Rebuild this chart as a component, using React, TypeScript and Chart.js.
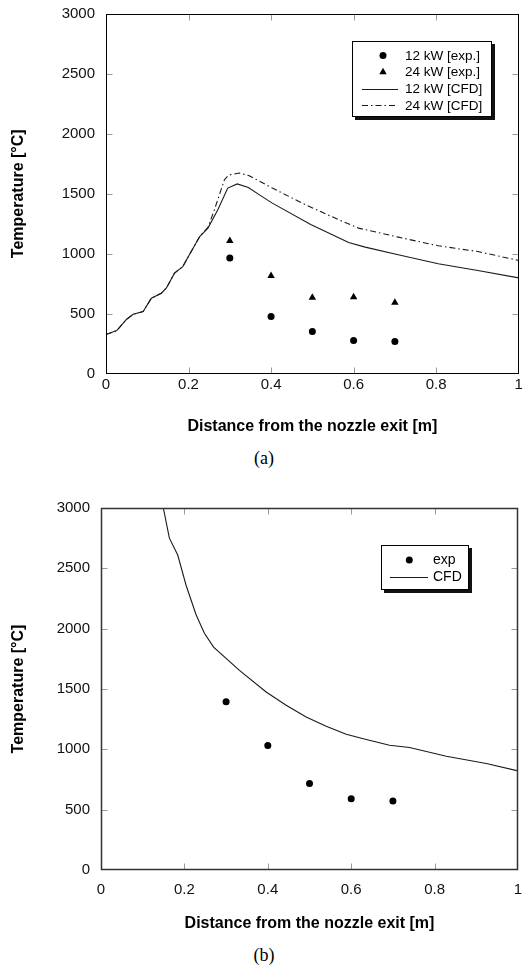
import React, { useEffect, useRef } from 'react';
import { Chart, registerables } from 'chart.js';

Chart.register(...registerables);

const SANS = '"Liberation Sans", Arial, Helvetica, sans-serif';
const SERIF = '"Liberation Serif", "Times New Roman", Times, serif';

// Axis ticks
const X_TICKS = [0, 0.2, 0.4, 0.6, 0.8, 1];
const Y_TICKS = [0, 500, 1000, 1500, 2000, 2500, 3000];

// Chart (a): experiments
const X_EXP_A = [0.3, 0.4, 0.5, 0.6, 0.7];
const T_EXP_12KW = [965, 478, 353, 278, 271];
const T_EXP_24KW = [1108, 817, 636, 640, 594];

// Chart (a): CFD 12 kW
const X_CFD_12KW = [0, 0.026, 0.05, 0.066, 0.09, 0.11, 0.134, 0.146, 0.166, 0.186, 0.202, 0.227, 0.247, 0.271, 0.295, 0.318, 0.345, 0.37, 0.403, 0.496, 0.588, 0.628, 0.708, 0.805, 0.901, 1.0];
const T_CFD_12KW = [328, 361, 456, 497, 519, 631, 672, 714, 839, 894, 992, 1144, 1214, 1367, 1547, 1582, 1552, 1495, 1422, 1245, 1094, 1056, 992, 917, 861, 800];

// Chart (a): CFD 24 kW
const X_CFD_24KW = [0, 0.026, 0.05, 0.066, 0.09, 0.11, 0.134, 0.146, 0.166, 0.186, 0.202, 0.227, 0.247, 0.262, 0.287, 0.297, 0.323, 0.347, 0.403, 0.484, 0.564, 0.612, 0.708, 0.805, 0.901, 1.0];
const T_CFD_24KW = [328, 361, 456, 497, 519, 631, 672, 714, 839, 894, 992, 1144, 1220, 1360, 1617, 1655, 1672, 1650, 1547, 1408, 1283, 1214, 1139, 1067, 1019, 945];

// Chart (b)
const X_EXP_B = [0.3, 0.4, 0.5, 0.6, 0.7];
const T_EXP_B = [1395, 1031, 717, 590, 571];
const X_CFD_B = [0.1495, 0.164, 0.184, 0.204, 0.228, 0.248, 0.27, 0.332, 0.396, 0.444, 0.492, 0.54, 0.588, 0.636, 0.692, 0.74, 0.828, 0.924, 1.0];
const T_CFD_B = [3000, 2750, 2610, 2360, 2115, 1962, 1847, 1654, 1475, 1365, 1268, 1191, 1125, 1081, 1034, 1015, 943, 882, 821];

const X_TITLE = 'Distance from the nozzle exit [m]';
const Y_TITLE = 'Temperature [°C]';

const pts = (xs: number[], ys: number[]) => xs.map((x, i) => ({ x, y: ys[i] }));

const frameTicksPlugin = {
  id: 'frameTicks',
  afterDatasetsDraw(chart: any, _args: any, opts: any) {
    const { ctx, chartArea } = chart;
    const xs = chart.scales.x;
    const ys = chart.scales.y;
    const l = Math.round(chartArea.left) + 0.5;
    const r = Math.round(chartArea.right) - 0.5;
    const t = Math.round(chartArea.top) + 0.5;
    const b = Math.round(chartArea.bottom) - 0.5;
    const len = 6;
    ctx.save();
    ctx.strokeStyle = '#9a9a9a';
    ctx.lineWidth = 1;
    ctx.beginPath();
    ys.ticks.forEach((tk: any) => {
      const py = Math.round(ys.getPixelForValue(tk.value)) + 0.5;
      if (py <= t + 1 || py >= b - 1) return;
      ctx.moveTo(l, py); ctx.lineTo(l + len, py);
      ctx.moveTo(r, py); ctx.lineTo(r - len, py);
    });
    xs.ticks.forEach((tk: any) => {
      const px = Math.round(xs.getPixelForValue(tk.value)) + 0.5;
      if (px <= l + 1 || px >= r - 1) return;
      ctx.moveTo(px, b); ctx.lineTo(px, b - len);
      ctx.moveTo(px, t); ctx.lineTo(px, t + len);
    });
    ctx.stroke();
    ctx.strokeStyle = opts.frameColor || '#000';
    ctx.lineWidth = opts.frameWidth || 1;
    ctx.strokeRect(l, t, r - l, b - t);
    ctx.restore();
  },
};

const boxLegendPlugin = {
  id: 'boxLegend',
  afterDraw(chart: any, _args: any, o: any) {
    if (!o || !o.w) return;
    const { ctx } = chart;
    ctx.save();
    ctx.fillStyle = '#111';
    ctx.fillRect(o.x + 3, o.y + 3, o.w, o.h);
    ctx.fillStyle = '#fff';
    ctx.fillRect(o.x, o.y, o.w, o.h);
    ctx.strokeStyle = '#000';
    ctx.lineWidth = 1;
    ctx.strokeRect(o.x + 0.5, o.y + 0.5, o.w - 1, o.h - 1);
    chart.data.datasets.forEach((ds: any, i: number) => {
      const cy = o.y + o.rowStart + i * o.rowGap;
      if (ds.showLine) {
        ctx.strokeStyle = ds.borderColor;
        ctx.lineWidth = ds.borderWidth;
        ctx.setLineDash(ds.borderDash || []);
        ctx.beginPath();
        ctx.moveTo(o.x + o.line0, Math.round(cy) + 0.5);
        ctx.lineTo(o.x + o.line1, Math.round(cy) + 0.5);
        ctx.stroke();
        ctx.setLineDash([]);
      } else {
        ctx.fillStyle = ds.backgroundColor;
        ctx.beginPath();
        const mx = o.x + o.markerX;
        const r = ds.pointRadius;
        if (ds.pointStyle === 'triangle') {
          ctx.moveTo(mx, cy - r);
          ctx.lineTo(mx + r * Math.sin((2 * Math.PI) / 3), cy + r * 0.5);
          ctx.lineTo(mx - r * Math.sin((2 * Math.PI) / 3), cy + r * 0.5);
          ctx.closePath();
        } else {
          ctx.arc(mx, cy, r, 0, Math.PI * 2);
        }
        ctx.fill();
      }
      ctx.fillStyle = '#000';
      ctx.font = `${o.fontSize}px ${SANS}`;
      ctx.textAlign = 'left';
      ctx.textBaseline = 'middle';
      ctx.fillText(ds.label, o.x + o.textX, cy + 0.5);
    });
    ctx.restore();
  },
};

function makeConfig(p: any) {
  return {
    type: 'scatter',
    data: { datasets: p.datasets },
    options: {
      responsive: false,
      animation: false,
      events: [],
      layout: { padding: { top: p.padTop, right: p.padRight, left: 0, bottom: 0 } },
      plugins: {
        legend: { display: false },
        tooltip: { enabled: false },
        boxLegend: p.legend,
        frameTicks: { frameColor: p.frameColor, frameWidth: p.frameWidth },
      },
      scales: {
        x: {
          type: 'linear',
          min: 0,
          max: 1,
          afterBuildTicks: (s: any) => { s.ticks = X_TICKS.map((v) => ({ value: v })); },
          afterFit: (s: any) => { s.height = p.xHeight; s.paddingLeft = 0; s.paddingRight = 0; },
          grid: { display: false, drawTicks: false },
          border: { display: false },
          ticks: {
            padding: p.xTickPad,
            color: '#111',
            font: { family: SANS, size: 15 },
            maxRotation: 0,
            callback: (v: any) => String(v),
          },
          title: {
            display: true,
            text: X_TITLE,
            color: '#000',
            font: { family: SANS, size: 16, weight: 'bold' },
            padding: { top: 0, bottom: p.xTitlePad },
          },
        },
        y: {
          type: 'linear',
          min: 0,
          max: 3000,
          afterBuildTicks: (s: any) => { s.ticks = Y_TICKS.map((v) => ({ value: v })); },
          afterFit: (s: any) => { s.width = p.yWidth; s.paddingTop = 0; s.paddingBottom = 0; },
          grid: { display: false, drawTicks: false },
          border: { display: false },
          ticks: {
            padding: 11,
            color: '#111',
            font: { family: SANS, size: 15 },
            callback: (v: any) => String(v),
          },
          title: {
            display: true,
            text: Y_TITLE,
            color: '#000',
            font: { family: SANS, size: 16, weight: 'bold' },
            padding: { top: 9.4, bottom: 0 },
          },
        },
      },
    },
    plugins: [frameTicksPlugin, boxLegendPlugin],
  };
}

const expStyle = (label: string, data: any[], style: string, r: number) => ({
  label,
  data,
  showLine: false,
  pointStyle: style,
  pointRadius: r,
  pointBorderWidth: 0,
  backgroundColor: '#000',
  borderColor: '#000',
});

const lineStyle = (label: string, data: any[], dash: number[] = []) => ({
  label,
  data,
  showLine: true,
  pointRadius: 0,
  borderColor: '#1a1a1a',
  backgroundColor: '#1a1a1a',
  borderWidth: 1.1,
  borderDash: dash,
  tension: 0,
});

function ChartCanvas({ top, height, config }: { top: number; height: number; config: any }) {
  const ref = useRef<HTMLCanvasElement>(null);
  useEffect(() => {
    const c = new Chart(ref.current as HTMLCanvasElement, config);
    return () => c.destroy();
  }, []);
  return (
    <canvas
      ref={ref}
      width={523}
      height={height}
      style={{ position: 'absolute', left: 0, top, width: 523, height, display: 'block' }}
    />
  );
}

export default function App() {
  const configA = makeConfig({
    datasets: [
      expStyle('12 kW [exp.]', pts(X_EXP_A, T_EXP_12KW), 'circle', 3.5),
      expStyle('24 kW [exp.]', pts(X_EXP_A, T_EXP_24KW), 'triangle', 4.3),
      lineStyle('12 kW [CFD]', pts(X_CFD_12KW, T_CFD_12KW)),
      lineStyle('24 kW [CFD]', pts(X_CFD_24KW, T_CFD_24KW), [6, 3, 1.5, 3]),
    ],
    padTop: 13.5,
    padRight: 2,
    yWidth: 106,
    xHeight: 66,
    xTickPad: 2,
    xTitlePad: 3.4,
    frameColor: '#000',
    frameWidth: 1,
    legend: { x: 352, y: 41, w: 140, h: 76, rowStart: 14.5, rowGap: 16.6, markerX: 31, line0: 10, line1: 46, textX: 53, fontSize: 13.5 },
  });
  const configB = makeConfig({
    datasets: [
      expStyle('exp', pts(X_EXP_B, T_EXP_B), 'circle', 3.5),
      lineStyle('CFD', pts(X_CFD_B, T_CFD_B)),
    ],
    padTop: 28,
    padRight: 5,
    yWidth: 101,
    xHeight: 70,
    xTickPad: 11,
    xTitlePad: 6.4,
    frameColor: '#333',
    frameWidth: 1.5,
    legend: { x: 381, y: 65, w: 88, h: 45, rowStart: 15, rowGap: 16.7, markerX: 28.3, line0: 9, line1: 47, textX: 52, fontSize: 14 },
  });
  const caption: React.CSSProperties = {
    position: 'absolute',
    left: 0,
    width: 528,
    textAlign: 'center',
    fontFamily: SERIF,
    fontSize: 18,
    lineHeight: '22px',
    color: '#000',
  };
  return (
    <div style={{ position: 'absolute', left: 0, top: 0, width: 523, height: 967, background: '#fff' }}>
      <ChartCanvas top={0} height={440} config={configA} />
      <div style={{ ...caption, top: 447 }}>(a)</div>
      <ChartCanvas top={480} height={460} config={configB} />
      <div style={{ ...caption, top: 944 }}>(b)</div>
    </div>
  );
}
